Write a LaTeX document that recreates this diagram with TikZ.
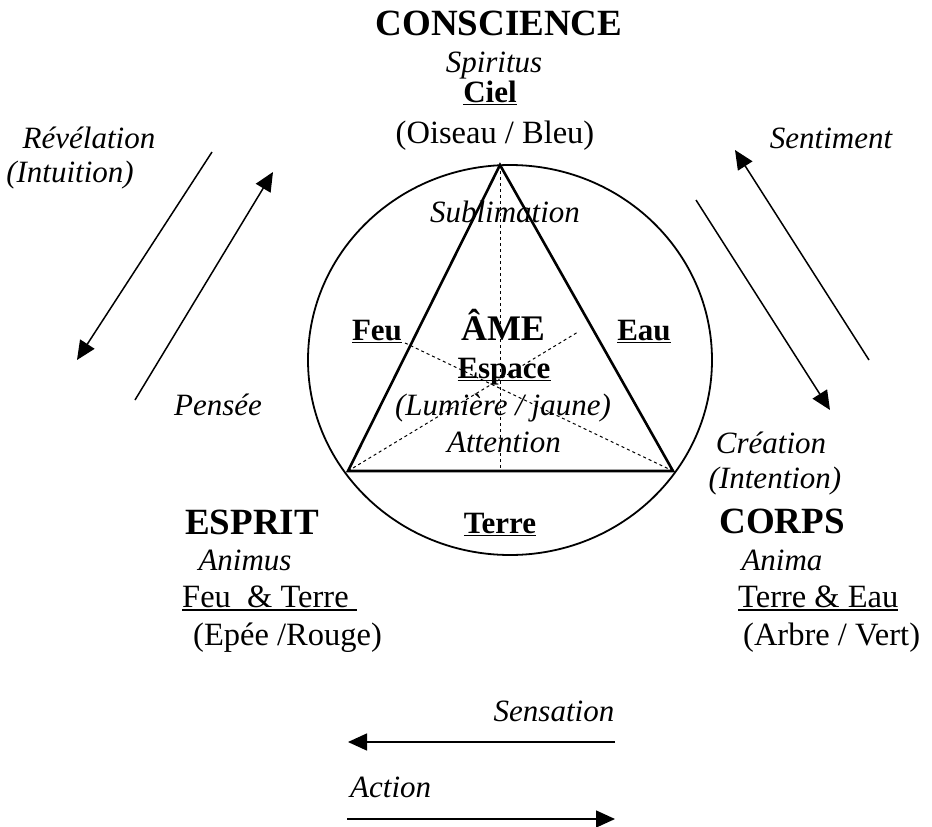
\documentclass[tikz,border=0pt]{standalone}
\usepackage{fontspec}
\setmainfont{Liberation Serif}
\usetikzlibrary{arrows.meta}
\newsavebox\ulbox
\newcommand\myul[1]{\sbox\ulbox{#1}\rlap{\rule[-0.11em]{\wd\ulbox}{0.06em}}\usebox\ulbox}
\tikzset{
  lbl/.style={inner sep=0pt, anchor=base},
  head/.style={lbl, font=\fontsize{37}{40}\selectfont\bfseries},
  rom/.style={lbl, font=\fontsize{32.5}{35}\selectfont},
  ital/.style={lbl, font=\fontsize{31}{34}\selectfont\itshape},
  bld/.style={lbl, font=\fontsize{31}{34}\selectfont\bfseries},
  arr/.style={line width=1.5pt, -{Triangle[length=19pt,width=17pt]}},
  tri/.style={line width=2.6pt, line join=miter},
  dsh/.style={line width=1pt, dash pattern=on 3pt off 3pt},
}
\begin{document}
\begin{tikzpicture}[x=1pt,y=-1pt]
\useasboundingbox (0,0) rectangle (932,827);
% circle and triangle
\draw[line width=1.8pt] (510,360) ellipse [x radius=202, y radius=195];
\coordinate (ap) at (500,165);
\coordinate (bl) at (348,471);
\coordinate (br) at (673,471);
\coordinate (bm) at (500,471);
\coordinate (dl) at (403,342);
\coordinate (dr) at (578,332);
\draw[dsh] (ap) -- (bm);
\draw[dsh] (br) -- (dl);
\draw[dsh] (bl) -- (dr);
\draw[tri] (ap) -- (bl) -- (br) -- cycle;
% top
\node[head] (consc) at (499,35) {CONSCIENCE};
\node[ital] (spir) at (494,72) {Spiritus};
\node[bld] (ciel) at (490,102) {\myul{Ciel}};
\node[rom] (ois) at (495,143) {(Oiseau / Bleu)};
% left
\node[ital] (rev) at (89,148) {Révélation};
\node[ital] (intu) at (70,182) {(Intuition)};
\node[ital] (pens) at (218,415) {Pensée};
% right
\node[ital] (sent) at (831,148) {Sentiment};
\node[ital] (crea) at (771,453) {Création};
\node[ital] (inte) at (775,488) {(Intention)};
% inside
\node[ital] (subl) at (505,222) {Sublimation};
\node[bld] (feu) at (377,340) {\myul{Feu}};
\node[lbl, font=\fontsize{36}{40}\selectfont\bfseries] (ame) at (503,340) {ÂME};
\node[bld] (eau) at (644,340) {\myul{Eau}};
\node[bld] (esp) at (504,378) {\myul{Espace}};
\node[ital] (lum) at (503,415) {(Lumière / jaune)};
\node[ital] (att) at (504,452) {Attention};
\node[bld] (terre) at (500,533) {\myul{Terre}};
% bottom left
\node[head] (esprit) at (252,534) {ESPRIT};
\node[ital] (animus) at (245,570) {Animus};
\node[rom, anchor=base west] (ft) at (182,607) {\myul{Feu\ \ \& Terre\ }};
\node[rom, anchor=base west] (epee) at (193,645) {(Epée /Rouge)};
% bottom right
\node[head] (corps) at (782,533) {CORPS};
\node[ital] (anima) at (782,570) {Anima};
\node[rom, anchor=base west] (te) at (738,607) {\myul{Terre \& Eau}};
\node[rom, anchor=base west] (arbre) at (743,645) {(Arbre / Vert)};
% bottom
\node[ital] (sens) at (554,721) {Sensation};
\node[ital, anchor=base west] (act) at (350,797) {Action};
% arrows
\coordinate (a1s) at (212,152); \coordinate (a1e) at (77,360);
\coordinate (a2s) at (135,400); \coordinate (a2e) at (273,172);
\coordinate (a3s) at (869,360); \coordinate (a3e) at (735,150);
\coordinate (a4s) at (696,200); \coordinate (a4e) at (830,410);
\coordinate (a5s) at (615,742); \coordinate (a5e) at (348,742);
\coordinate (a6s) at (347,819); \coordinate (a6e) at (615,819);
\draw[arr] (a1s) -- (a1e);
\draw[arr] (a2s) -- (a2e);
\draw[arr] (a3s) -- (a3e);
\draw[arr] (a4s) -- (a4e);
\draw[arr] (a5s) -- (a5e);
\draw[arr] (a6s) -- (a6e);
\end{tikzpicture}
\end{document}
